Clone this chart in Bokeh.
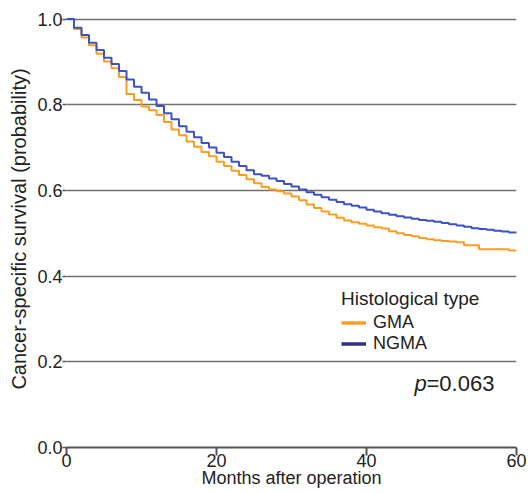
from bokeh.plotting import figure
from bokeh.models import Range1d, Legend, LegendItem, Label, NumeralTickFormatter, FixedTicker
from bokeh.embed import file_html
from bokeh.resources import INLINE

months = list(range(0, 61))
gma = [1.000, 0.977, 0.957, 0.939, 0.919, 0.901, 0.885, 0.865, 0.825, 0.811,
       0.796, 0.787, 0.776, 0.760, 0.742, 0.729, 0.714, 0.702, 0.690, 0.680,
       0.667, 0.657, 0.646, 0.636, 0.626, 0.617, 0.608, 0.602, 0.598, 0.593,
       0.586, 0.577, 0.567, 0.559, 0.551, 0.544, 0.536, 0.530, 0.526, 0.522,
       0.518, 0.514, 0.511, 0.505, 0.500, 0.496, 0.493, 0.489, 0.486, 0.484,
       0.482, 0.481, 0.479, 0.472, 0.472, 0.463, 0.463, 0.463, 0.463, 0.460,
       0.460]
ngma = [1.000, 0.980, 0.963, 0.945, 0.928, 0.910, 0.895, 0.879, 0.859, 0.842,
        0.828, 0.812, 0.797, 0.780, 0.766, 0.750, 0.737, 0.724, 0.711, 0.700,
        0.688, 0.678, 0.667, 0.657, 0.647, 0.638, 0.634, 0.628, 0.622, 0.615,
        0.609, 0.602, 0.596, 0.590, 0.584, 0.578, 0.573, 0.568, 0.564, 0.560,
        0.555, 0.551, 0.547, 0.543, 0.540, 0.537, 0.534, 0.531, 0.529, 0.527,
        0.524, 0.521, 0.518, 0.515, 0.512, 0.510, 0.508, 0.506, 0.504, 0.502,
        0.501]
series_names = ["GMA", "NGMA"]
x_ticks = [0, 20, 40, 60]
y_ticks = [0.0, 0.2, 0.4, 0.6, 0.8, 1.0]
legend_title = "Histological type"
p_label = "p"
p_value = "=0.063"
x_title = "Months after operation"
y_title = "Cancer-specific survival (probability)"

FONT = "Liberation Sans"
ORANGE = "#fb9d21"
BLUE = "#3d52c4"
NAVY = "#2e3188"
TXT = "#222222"
NAN = float("nan")

p = figure(width=530, height=493, output_backend="svg", toolbar_location=None,
           x_range=Range1d(0, 60), y_range=Range1d(0, 1.02),
           min_border_left=66, min_border_right=14, min_border_top=10, min_border_bottom=46)
p.outline_line_color = None
p.background_fill_color = "white"

p.xgrid.grid_line_color = None
p.ygrid.ticker = FixedTicker(ticks=y_ticks)
p.ygrid.grid_line_color = "#707070"
p.ygrid.grid_line_width = 1.6

p.xaxis.ticker = FixedTicker(ticks=x_ticks)
p.xaxis.axis_line_color = "#555555"
p.xaxis.axis_line_width = 2
p.xaxis.major_tick_line_color = "#555555"
p.xaxis.major_tick_line_width = 2
p.xaxis.major_tick_out = 8
p.xaxis.major_tick_in = 0
p.xaxis.minor_tick_line_color = None
p.xaxis.major_label_standoff = -2
p.xaxis.axis_label = x_title
p.xaxis.axis_label_standoff = -2

p.yaxis.ticker = FixedTicker(ticks=y_ticks)
p.yaxis.formatter = NumeralTickFormatter(format="0.0")
p.yaxis.axis_line_color = None
p.yaxis.major_tick_line_color = "#555555"
p.yaxis.major_tick_line_width = 1.5
p.yaxis.major_tick_out = 4
p.yaxis.major_tick_in = 0
p.yaxis.minor_tick_line_color = None
p.yaxis.major_label_standoff = 0
p.yaxis.axis_label = y_title
p.yaxis.axis_label_standoff = 4

for ax in (p.xaxis, p.yaxis):
    ax.major_label_text_font = FONT
    ax.major_label_text_font_size = "18px"
    ax.major_label_text_color = TXT
    ax.axis_label_text_font = FONT
    ax.axis_label_text_font_style = "normal"
    ax.axis_label_text_color = TXT
p.xaxis.axis_label_text_font_size = "18px"
p.yaxis.axis_label_text_font_size = "20px"

p.step(x=months, y=gma, mode="after", line_color=ORANGE, line_width=2)
p.step(x=months, y=ngma, mode="after", line_color=BLUE, line_width=2)

lg = p.line(x=[NAN], y=[NAN], line_color=ORANGE, line_width=3.5)
ln = p.line(x=[NAN], y=[NAN], line_color=NAVY, line_width=3.5)

legend = Legend(items=[LegendItem(label=series_names[0], renderers=[lg]),
                       LegendItem(label=series_names[1], renderers=[ln])],
                title=legend_title, location=(275, 93))
legend.title_text_font = FONT
legend.title_text_font_size = "19px"
legend.title_text_font_style = "normal"
legend.title_text_color = TXT
legend.title_standoff = 2
legend.label_text_font = FONT
legend.label_text_font_size = "18px"
legend.label_text_color = TXT
legend.glyph_width = 25
legend.glyph_height = 17
legend.label_height = 17
legend.label_standoff = 7
legend.spacing = 0
legend.padding = 0
legend.margin = 0
legend.border_line_color = None
legend.background_fill_alpha = 0
p.add_layout(legend)

p.add_layout(Label(x=46.4, y=0.150, text=p_label, text_font=FONT, text_font_size="22px",
                   text_font_style="italic", text_color=TXT, text_baseline="alphabetic"))
p.add_layout(Label(x=46.4, y=0.150, x_offset=12, text=p_value, text_font=FONT,
                   text_font_size="22px", text_color=TXT, text_baseline="alphabetic"))

open("out.html", "w").write(file_html(p, INLINE))
